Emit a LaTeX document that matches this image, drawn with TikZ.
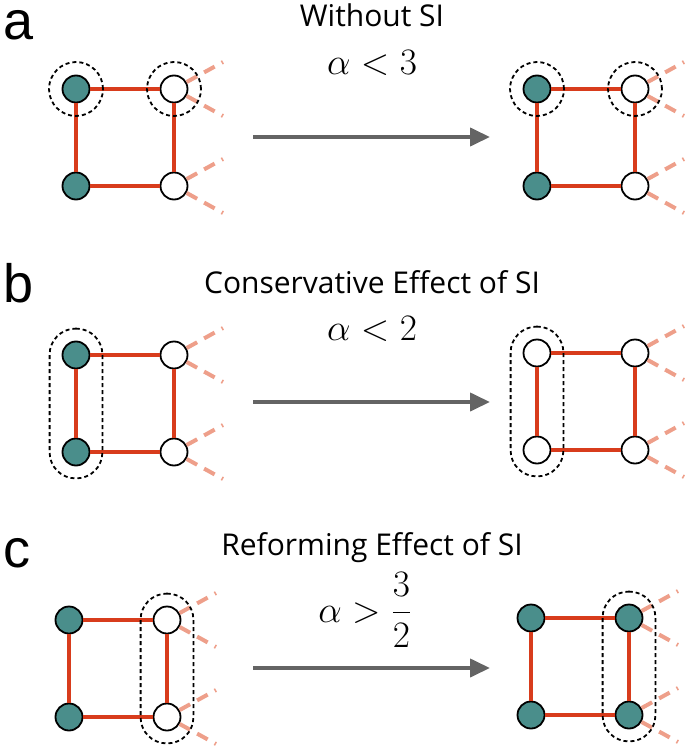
\documentclass[tikz,border=0pt]{standalone}
\usepackage{graphicx}
\usepackage{fontspec}
\setmainfont{Open Sans}
\newfontfamily\labelfont{Liberation Sans}
\usetikzlibrary{arrows.meta,fit}
\definecolor{tealfill}{HTML}{4A8E8B}
\definecolor{edgered}{HTML}{D83C1C}
\definecolor{leakpink}{HTML}{EE9F8A}
\definecolor{arrowgray}{HTML}{646464}
\newcommand\bigmath[1]{\scalebox{1.5}{\fontsize{24}{28}\selectfont$#1$}}
\tikzset{
  vtx/.style={circle, draw=black, line width=1.8pt, minimum size=27pt, inner sep=0pt},
  full/.style={vtx, fill=tealfill},
  empty/.style={vtx, fill=white},
  edge/.style={draw=edgered, line width=4.5pt},
  leak/.style={draw=leakpink, line width=4pt, dash pattern=on 12pt off 8pt},
  group/.style={draw=black, line width=1.8pt, dash pattern=on 4pt off 3pt},
  ring/.style={group, circle, minimum size=54pt, inner sep=0pt},
  pill/.style={group, rounded corners=26pt, inner sep=12pt},
  move/.style={draw=arrowgray, line width=4pt, -{Triangle[length=20pt,width=18pt]}},
  panel/.style={font=\labelfont\fontsize{54}{58}\selectfont, anchor=base west, inner sep=0pt},
  caption/.style={font=\fontsize{30}{34}\selectfont, anchor=base, inner sep=0pt},
  cond/.style={anchor=base, inner sep=0pt},
}
% #1 prefix, #2 x, #3 y, #4..#7 styles of TL TR BL BR
\newcommand\sqgraph[7]{%
  \node[#4] (#1tl) at (#2,#3) {};
  \node[#5] (#1tr) at (#2+98,#3) {};
  \node[#6] (#1bl) at (#2,#3+97) {};
  \node[#7] (#1br) at (#2+98,#3+97) {};
  \draw[edge] (#1tl) -- (#1tr) -- (#1br) -- (#1bl) -- (#1tl);
  \coordinate (#1tru) at (#2+147,#3-27);
  \coordinate (#1trd) at (#2+147,#3+27);
  \coordinate (#1bru) at (#2+147,#3+70);
  \coordinate (#1brd) at (#2+147,#3+124);
  \draw[leak] (#1tr) -- (#1tru);
  \draw[leak] (#1tr) -- (#1trd);
  \draw[leak] (#1br) -- (#1bru);
  \draw[leak] (#1br) -- (#1brd);
}
\begin{document}
\begin{tikzpicture}[x=1pt,y=-1pt]
\useasboundingbox (0,0) rectangle (690,749);

% ---- panel a
\node[panel] (la) at (3,40) {a};
\node[caption] (ta) at (372,27) {Without SI};
\node[cond] (ca) at (372,75) {\bigmath{\alpha<3}};
\sqgraph{aL}{76}{89}{full}{empty}{full}{empty}
\sqgraph{aR}{537}{89}{full}{empty}{full}{empty}
\node[ring] (aLr1) at (aLtl) {};
\node[ring] (aLr2) at (aLtr) {};
\node[ring] (aRr1) at (aRtl) {};
\node[ring] (aRr2) at (aRtr) {};
\coordinate (aS) at (253,137);
\coordinate (aE) at (490,137);
\draw[move] (aS) -- (aE);

% ---- panel b
\node[panel] (lb) at (3,302) {b};
\node[caption] (tb) at (372,293) {Conservative Effect of SI};
\node[cond] (cb) at (372,340) {\bigmath{\alpha<2}};
\sqgraph{bL}{76}{355}{full}{empty}{full}{empty}
\sqgraph{bR}{537}{353}{empty}{empty}{empty}{empty}
\node[pill, fit=(bLtl)(bLbl)] (bLp) {};
\node[pill, fit=(bRtl)(bRbl)] (bRp) {};
\coordinate (bS) at (253,402);
\coordinate (bE) at (490,402);
\draw[move] (bS) -- (bE);

% ---- panel c
\node[panel] (lc) at (3,567) {c};
\node[caption] (tc) at (372,555) {Reforming Effect of SI};
\node[cond] (cc) at (365,622) {\bigmath{\alpha>\displaystyle\frac{3}{2}}};
\sqgraph{cL}{69}{620}{full}{empty}{full}{empty}
\sqgraph{cR}{531}{618}{full}{full}{full}{full}
\node[pill, fit=(cLtr)(cLbr)] (cLp) {};
\node[pill, fit=(cRtr)(cRbr)] (cRp) {};
\coordinate (cS) at (253,668);
\coordinate (cE) at (490,668);
\draw[move] (cS) -- (cE);
\end{tikzpicture}
\end{document}
